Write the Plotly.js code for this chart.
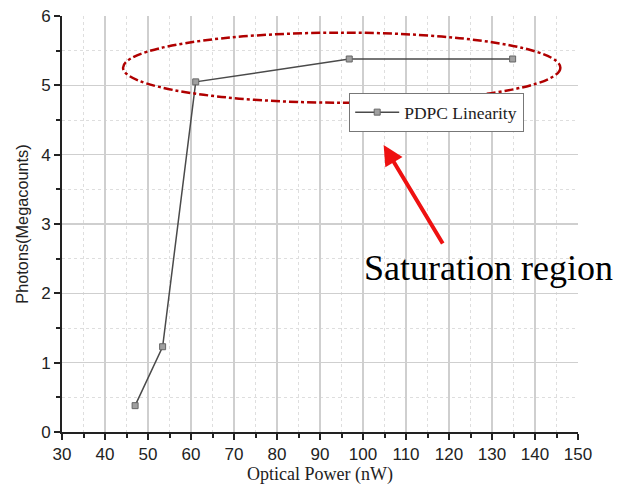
<!DOCTYPE html>
<html><head><meta charset="utf-8">
<script src="https://cdn.plot.ly/plotly-3.0.1.min.js"></script>
<style>html,body{margin:0;padding:0;background:#fff}#c{width:619px;height:487px}</style>
</head><body><div id="c"></div>
<script>
const opticalPower = [47, 53.4, 61.1, 96.8, 134.8];
const photons = [0.38, 1.23, 5.05, 5.38, 5.38];
const seriesName = 'PDPC Linearity';
const xTicks = [30,40,50,60,70,80,90,100,110,120,130,140,150];
const yTicks = [0,1,2,3,4,5,6];

const SERIF = 'Liberation Serif';
const SANS = 'Liberation Sans';

const trace = {
  x: opticalPower, y: photons, name: seriesName, type: 'scatter', mode: 'lines+markers',
  line: {color: '#4a4a4a', width: 1.5},
  marker: {symbol: 'square', size: 6, color: '#a0a0a0', line: {color: '#666', width: 1}},
  showlegend: true
};
const axisCommon = {
  showline: true, linecolor: '#222', linewidth: 2, ticks: 'outside', ticklen: 6, tickwidth: 2, tickcolor: '#222',
  showgrid: true, gridcolor: '#cfcfcf', gridwidth: 1.3, zeroline: false,
  tickfont: {family: SANS, size: 17, color: '#222'}
};
const layout = {
  width: 619, height: 487,
  margin: {l: 62, r: 41, t: 16, b: 55},
  paper_bgcolor: '#fff', plot_bgcolor: '#fff',
  xaxis: Object.assign({}, axisCommon, {
    range: [30, 150], tickvals: xTicks, ticktext: xTicks.map(String),
    minor: {dtick: 5, tick0: 0, showgrid: true, gridcolor: '#dedede', griddash: 'dot', gridwidth: 1, ticks: 'outside', ticklen: 4, tickwidth: 2, tickcolor: '#222'},
    title: {text: 'Optical Power (nW)', font: {family: SERIF, size: 18, color: '#222'}, standoff: 4}
  }),
  yaxis: Object.assign({}, axisCommon, {
    range: [0, 6], tickvals: yTicks, ticktext: yTicks.map(String),
    minor: {dtick: 0.5, tick0: 0, showgrid: true, gridcolor: '#dedede', griddash: 'dot', gridwidth: 1, ticks: 'outside', ticklen: 4, tickwidth: 2, tickcolor: '#222'},
    title: {text: 'Photons(Megacounts)', font: {family: SANS, size: 16.3, color: '#222'}, standoff: 8}
  }),
  legend: {x: 0.556, y: 0.815, xanchor: 'left', yanchor: 'top', bordercolor: '#777', borderwidth: 1.3, bgcolor: '#fff',
    itemwidth: 44,
    font: {family: SERIF, size: 17.5, color: '#222'}},
  shapes: [{type: 'circle', xref: 'x', yref: 'y', x0: 44.2, x1: 145.9, y0: 4.75, y1: 5.76,
    line: {color: '#b00000', width: 2.5, dash: 'dashdot'}}],
  annotations: [
    {x: 104.8, y: 4.14, xref: 'x', yref: 'y', text: '', showarrow: true, ax: 60, ay: 100,
      arrowcolor: '#ee1111', arrowwidth: 4, arrowhead: 2, arrowsize: 1},
    {x: 129.3, y: 2.37, xref: 'x', yref: 'y', text: 'Saturation region', showarrow: false,
      font: {family: SERIF, size: 36, color: '#000'}}
  ]
};
Plotly.newPlot('c', [trace], layout, {displayModeBar: false, staticPlot: true});
</script></body></html>
